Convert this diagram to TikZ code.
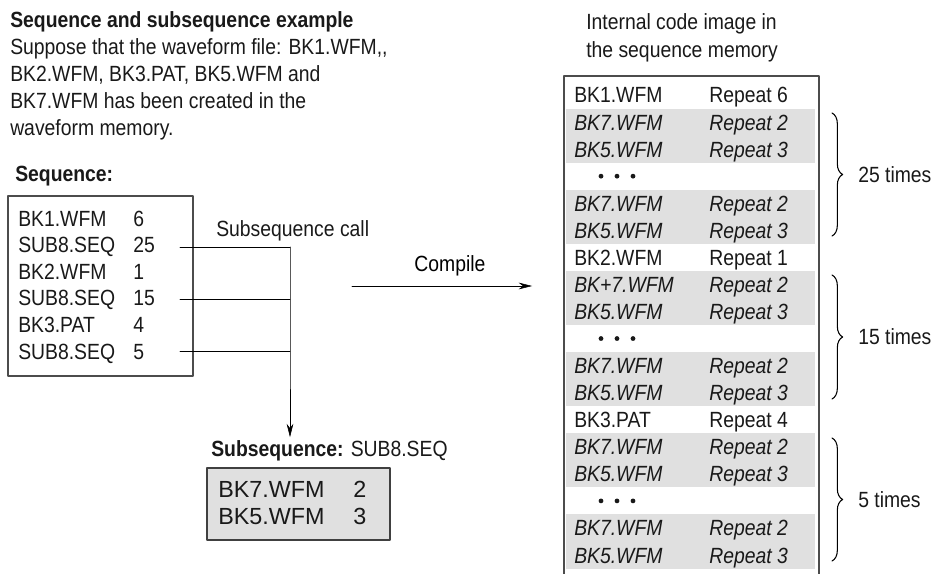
\documentclass[tikz,border=0pt]{standalone}
\usepackage{fontspec}
\setmainfont[FakeStretch=0.88]{Liberation Sans}
\newfontfamily\plainface{Liberation Sans}
\usetikzlibrary{arrows.meta,decorations.pathreplacing}
\begin{document}
\begin{tikzpicture}[x=0.75pt,y=-0.75pt,line cap=round,line join=round,font=\fontsize{16.5}{19}\selectfont]
\tikzset{txt/.style={anchor=base west,inner sep=0pt,text=black!90},
	bold/.style={font=\fontsize{16.5}{19}\selectfont\bfseries},
	rowup/.style={},
	rowit/.style={font=\fontsize{16.5}{19}\selectfont\itshape},
	band/.style={fill=black!12},
	boxline/.style={draw=black!70,line width=0.9pt},
	tip/.style={-{Stealth[length=10pt,width=5pt]}}}
\useasboundingbox (0,0) rectangle (946,574);
\def\dy{27.06}
% intro text
\node[txt,bold] (title) at (10,28) {Sequence and subsequence example};
\foreach \t [count=\k] in {{Suppose that the waveform file: BK1.WFM,\kern0pt,},{BK2.WFM, BK3.PAT, BK5.WFM and},{BK7.WFM has been created in the},{waveform memory.}}{\node[txt] (intro\k) at (10,{28+\k*27}) {\t};}
% sequence
\node[txt,bold] (seqlabel) at (15,181) {Sequence:};
\draw[boxline] (8,196) rectangle (193,376);
\foreach \a/\b [count=\k] in {BK1.WFM/6,SUB8.SEQ/25,BK2.WFM/1,SUB8.SEQ/15,BK3.PAT/4,SUB8.SEQ/5}{
	\node[txt] (sq\k) at (18,{226+(\k-1)*26.6}) {\a};
	\node[txt] (sn\k) at (133,{226+(\k-1)*26.6}) {\b};}
\node[txt] (callnote) at (216,236) {Subsequence call};
\foreach \k/\y in {2/247,4/299,6/351}{\coordinate (c\k) at (180,\y);\coordinate (j\k) at (290,\y);\draw (c\k) -- (j\k);}
% subsequence
\node[txt] (sublabel) at (211,456) {\textbf{Subsequence:} SUB8.SEQ};
\draw[tip] (j2) -- (j6) -- ([yshift=2pt]j2 |- sublabel.north);
\draw[draw=black!75,fill=black!12,line width=0.9pt] (207,468) rectangle (390,540);
\foreach \a/\b [count=\k] in {BK7.WFM/2,BK5.WFM/3}{
	\node[txt,font=\plainface\fontsize{17.5}{20}\selectfont] (ss\k) at (218,{497+(\k-1)*27}) {\a};
	\node[txt,font=\plainface\fontsize{17.5}{20}\selectfont] (sv\k) at (353,{497+(\k-1)*27}) {\b};}
% compile
\coordinate (cs) at (352,286);\coordinate (ce) at (532,286);
\draw[tip] (cs) -- (ce);
\node[inner sep=0pt] (compile) at (450,266) {Compile};
% internal code image
\node[txt] (head1) at (586,30) {Internal code image in};
\node[txt] (head2) at (586,58) {the sequence memory};
\foreach \r in {2,5,8,11,14,17}{\fill[band] (566,{95+(\r-1)*\dy-13.5}) rectangle (815,{95+\r*\dy+13.5});}
\foreach \r/\a/\b/\s in {1/BK1.WFM/Repeat 6/up,2/BK7.WFM/Repeat 2/it,3/BK5.WFM/Repeat 3/it,5/BK7.WFM/Repeat 2/it,6/BK5.WFM/Repeat 3/it,
	7/BK2.WFM/Repeat 1/up,8/BK+7.WFM/Repeat 2/it,9/BK5.WFM/Repeat 3/it,11/BK7.WFM/Repeat 2/it,12/BK5.WFM/Repeat 3/it,
	13/BK3.PAT/Repeat 4/up,14/BK7.WFM/Repeat 2/it,15/BK5.WFM/Repeat 3/it,17/BK7.WFM/Repeat 2/it,18/BK5.WFM/Repeat 3/it}{
	\node[txt,row\s] (rf\r) at (574,{103+(\r-1)*\dy}) {\a};
	\node[txt,row\s] (rr\r) at (709,{103+(\r-1)*\dy}) {\b};}
\foreach \r in {4,10,16}{\foreach \d in {0,1,2}{\fill[black!90] ({601+\d*16},{95+(\r-1)*\dy}) circle (2.4);}}
\draw[boxline] (564,574) -- (564,76) -- (819,76) -- (819,574);
\foreach \a/\b/\t [count=\k] in {113/236/25 times,275/399/15 times,438/561/5 times}{
	\draw[decorate,decoration={brace,amplitude=8pt},line width=0.8pt] (832,\a) -- (832,\b);
	\node[txt,anchor=west] (times\k) at (858,{(\a+\b)/2}) {\t};}
\end{tikzpicture}
\end{document}
